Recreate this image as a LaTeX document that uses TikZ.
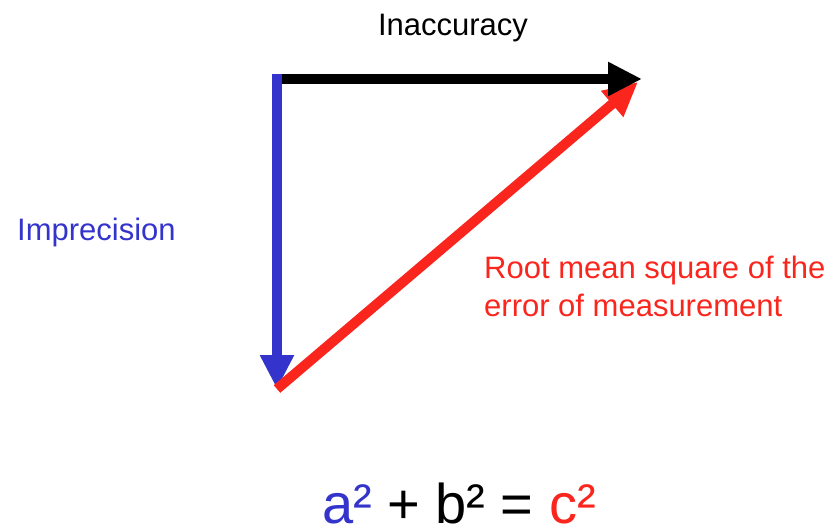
\documentclass[tikz,border=0pt]{standalone}
\usepackage{fontspec}
\setmainfont{Liberation Sans}
\usetikzlibrary{arrows.meta}
\definecolor{vblue}{RGB}{52,52,204}
\definecolor{vred}{RGB}{250,38,30}
\tikzset{
  vec/.style={line width=10pt, line cap=butt, -{Triangle[length=34pt,width=32pt]}},
  lbl/.style={inner sep=0pt, font=\fontsize{31}{38}\selectfont},
}
\begin{document}
\begin{tikzpicture}[x=1pt,y=-1pt]
\useasboundingbox (0,0) rectangle (840,530);
\coordinate (top) at (277,74);
\coordinate (corner) at (282,79);
\coordinate (bottom) at (277,389);
\coordinate (right) at (642,79);
\coordinate (rtip) at (638,82);
\draw[vec, vblue] (top) -- (bottom);
\draw[vec, vred] (bottom) -- (rtip);
\draw[vec, black] (corner) -- (right);
\node[lbl, anchor=base] (inacc) at (453,35) {Inaccuracy};
\node[lbl, anchor=base west, text=vblue] (imp) at (17,240) {Imprecision};
\node[lbl, anchor=north west, text=vred, align=left] (rms) at (484,256) {Root mean square of the\\error of measurement};
\node[inner sep=0pt, text depth=0pt, anchor=base, font=\fontsize{56}{60}\selectfont] (eq) at (459,523) {\textcolor{vblue}{a²} + b² = \textcolor{vred}{c²}};
\end{tikzpicture}
\end{document}
